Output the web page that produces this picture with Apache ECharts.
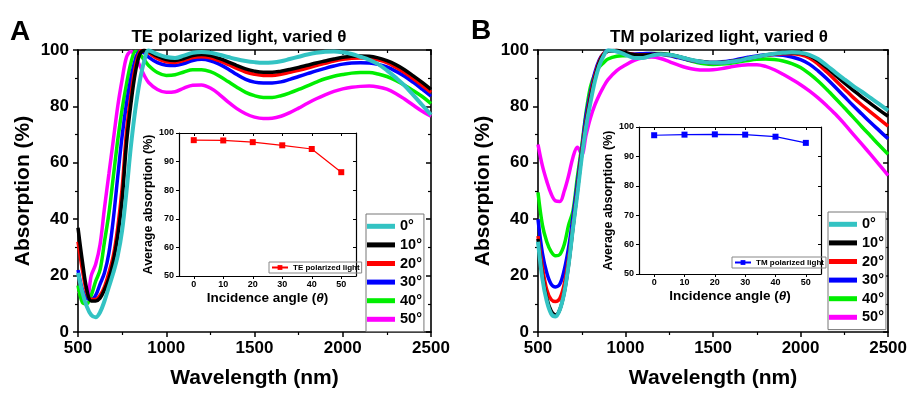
<!DOCTYPE html>
<html><head><meta charset="utf-8">
<script src="https://cdn.jsdelivr.net/npm/echarts@6/dist/echarts.min.js"></script>
<style>html,body{margin:0;padding:0;background:#fff}#c{width:910px;height:394px}</style>
</head><body><div id="c"></div>
<script>
// ---------- data ----------
const wavelength = [500,525,550,575,600,625,650,675,700,725,750,775,800,825,850,875,
  900,950,1000,1050,1100,1150,1200,1250,1300,1350,1400,1450,1500,1550,1600,1650,1700,1750,1800,1850,1900,1950,2000,2050,2100,2150,2200,2250,2300,2350,2400,2450,2500];
const angleNames = ['0°','10°','20°','30°','40°','50°'];
// TE polarized
const te0  = [21,14,9,6,5.2,7,11,16,21,27,36,50,66,79,89,96,
  99.8,98.5,97.5,97.2,98,99,99.3,99,98.3,97.5,96.7,96.1,95.7,95.5,95.6,96,96.8,97.6,98.4,99,99.4,99.5,99.2,98.6,97.6,96.5,95,92.8,90.2,87.4,84,80.5,77];
const te10 = [37,25,15,11,11,12,15,19,25,34,47,67,81,92,98.5,99.8,
  99.5,97.8,96.6,96.3,97,98,98.4,98,97,95.8,94.5,93.3,92.5,92.1,92.1,92.5,93.1,93.8,94.6,95.4,96.1,96.8,97.4,97.8,97.9,97.8,97.2,96.2,94.8,93,90.8,88.5,86];
const te20 = [32,22,14,11.5,11.5,13,16,21,27,37,51,71,84,94,99.3,99.8,
  99,97,95.8,95.6,96.3,97.3,97.6,97.2,96.2,94.9,93.5,92.2,91.4,91,91,91.4,92.1,92.8,93.6,94.5,95.3,96.1,96.7,97.1,97.2,97.1,96.5,95.5,93.9,92,89.8,87.4,85];
const te30 = [22,15,12,11.5,13,17,21,28,40,55,69.5,81,90,96.5,99.5,99,
  97.5,95.5,94.6,94.5,95.2,96.3,96.7,96.2,95,93.3,91.3,89.6,88.6,88.3,88.3,88.7,89.6,90.6,91.6,92.6,93.5,94.3,95,95.4,95.5,95.4,94.9,94,92.5,90.7,88.5,86.1,83.6];
const te40 = [16.5,10.5,10,13,18,22,32,42,55,68,79,88,95.5,99.5,98.5,96.5,
  94.5,92,91,91.2,92.2,93,93,92.3,90.8,88.8,86.8,85,83.8,83.2,83.2,83.8,84.8,86,87.3,88.6,89.8,90.7,91.3,91.8,92,92,91.5,90.6,89.2,87.5,85.6,83.5,81];
const te50 = [14.5,13,12,20,24,31,44,56,68,80,89.5,97.5,99.5,97.5,94.5,91,
  88.5,86,85,85.2,86.5,87.5,87.6,86.5,84.3,81.6,79.2,77.4,76.2,75.7,75.8,76.5,77.8,79.4,81.1,82.7,84.1,85.3,86.2,86.8,87.1,87.2,86.9,86.1,84.6,82.6,80.4,78.3,76.5];
// TM polarized
const tm0  = [32,19,11,6.5,5.5,8,14,24,37,49,62,73,81.5,89,94.5,98,
  99.8,99.5,98.3,97.2,97.2,98,98.5,98.3,97.7,96.9,96.2,95.7,95.5,95.5,95.8,96.3,97,97.6,98.2,98.7,99,99.2,99,98.3,96.8,94.5,92,89.6,87.3,85.2,83,80.8,78.5];
const tm10 = [33,20,12,7.5,6,8,14,24,37,50,63,74,83,90,95.5,98.5,
  99.5,99.8,99,98.3,98.2,98.4,98.6,98.3,97.7,96.9,96.2,95.8,95.6,95.6,95.9,96.4,97,97.6,98.2,98.6,98.9,99,98.8,98,96.2,93.7,91,88.3,85.8,83.3,81,78.7,76.5];
const tm20 = [34,23,15,11.5,10.8,12,17,26,38,51,64,75,84,91,96,98.8,
  99.5,99.8,99,98.4,98.3,98.4,98.5,98.2,97.6,96.8,96.1,95.7,95.5,95.6,95.9,96.4,97,97.6,98.1,98.5,98.7,98.7,98.3,97.2,95,92.2,89.2,86.2,83.2,80.5,78,75.5,73];
const tm30 = [40,28,21,17,16,17,22,30,41,53,65,77,85,92,96.5,98.8,
  99.8,99.5,98.8,98.6,98.7,98.8,98.6,98,97.3,96.6,96,95.7,95.6,95.8,96.2,96.8,97.4,97.9,98.2,98.3,98.1,97.5,96.6,95,92.6,89.8,86.7,83.5,80.3,77.3,74.3,71.4,68.5];
const tm40 = [49.5,38,32,28.5,27,27.5,31,38,43,55,66,78,87,91.5,94,95.5,
  96.8,97.8,98,98.3,98.6,98.8,98.8,98.4,97.7,96.5,95.7,95.1,94.9,95,95.3,95.8,96.3,96.7,96.8,96.6,96.1,95.2,93.8,91.6,89,86,82.8,79.5,76.2,72.8,69.5,66.2,63];
const tm50 = [66.5,59,53.5,49,46.5,46.3,50,55.5,62,65.5,63,70,76,80.5,84,87,
  89.5,92.7,94.7,96.3,97.2,97.5,97,95.9,94.7,93.7,93.1,92.9,93,93.4,94,94.5,94.8,94.8,94.2,93,91.4,89.6,87.7,85.5,83,80.2,77.2,73.8,70.2,66.6,63,59.3,55.5];
// insets
const incidenceAngle = [0,10,20,30,40,50];
const teAverage = [97.5,97.4,96.8,95.7,94.4,86.3];
const tmAverage = [97.2,97.4,97.5,97.4,96.7,94.6];
const insetTicks = [0,10,20,30,40,50];

// ---------- styles ----------
const FONT = 'Liberation Sans, Arial, sans-serif';
const colors = ['#33c3c3','#000000','#ff0000','#0000ff','#00ee00','#ff00ff'];
const teSets = [te0,te10,te20,te30,te40,te50];
const tmSets = [tm0,tm10,tm20,tm30,tm40,tm50];
const plain = v => String(v);

function mainX(grid, top){
  return {gridIndex:grid, type:'value', min:500, max:2500, interval:500, position: top?'top':'bottom',
    axisLine:{show:true, onZero:false, lineStyle:{color:'#000', width:1.6}},
    axisTick:{show:true, inside:!!top, length:5, lineStyle:{color:'#000', width:1.5}},
    minorTick:{show:true, splitNumber:2, length:3, lineStyle:{color:'#000', width:1.2}},
    axisLabel:{show:!top, margin:8, formatter:plain, fontSize:17, fontWeight:'bold', color:'#000', fontFamily:FONT},
    splitLine:{show:false},
    name: top?'':'Wavelength (nm)', nameLocation:'middle', nameGap:36,
    nameTextStyle:{fontSize:21, fontWeight:'bold', color:'#000', fontFamily:FONT}};
}
function mainY(grid, right){
  return {gridIndex:grid, type:'value', min:0, max:100, interval:20, position: right?'right':'left',
    axisLine:{show:true, onZero:false, lineStyle:{color:'#000', width:1.6}},
    axisTick:{show:true, inside:!!right, length:5, lineStyle:{color:'#000', width:1.5}},
    minorTick:{show:true, splitNumber:2, length:3, lineStyle:{color:'#000', width:1.2}},
    axisLabel:{show:!right, margin:9, formatter:plain, fontSize:17, fontWeight:'bold', color:'#000', fontFamily:FONT},
    splitLine:{show:false},
    name: right?'':'Absorption (%)', nameLocation:'middle', nameGap:44,
    nameTextStyle:{fontSize:21, fontWeight:'bold', color:'#000', fontFamily:FONT}};
}
function insetX(grid, top){
  return {gridIndex:grid, type:'value', min:-5, max:55, position: top?'top':'bottom',
    axisLine:{show:true, onZero:false, lineStyle:{color:'#000', width:1.2}},
    axisTick:{show:true, inside:!!top, length:3, customValues:insetTicks, lineStyle:{color:'#000', width:1}},
    axisLabel:{show:!top, margin:4, customValues:insetTicks, formatter:plain, fontSize:9, fontWeight:'bold', color:'#000', fontFamily:FONT},
    splitLine:{show:false},
    name: top?'':'Incidence angle ({i|θ})', nameLocation:'middle', nameGap:15,
    nameTextStyle:{fontSize:13.5, fontWeight:'bold', color:'#000', fontFamily:FONT,
      rich:{i:{fontSize:13.5, fontWeight:'bold', fontStyle:'italic', color:'#000', fontFamily:FONT}}}};
}
function insetY(grid, right){
  return {gridIndex:grid, type:'value', min:50, max:100, interval:10, position: right?'right':'left',
    axisLine:{show:true, onZero:false, lineStyle:{color:'#000', width:1.2}},
    axisTick:{show:true, inside:!!right, length:3, lineStyle:{color:'#000', width:1}},
    axisLabel:{show:!right, margin:5, formatter:plain, fontSize:9, fontWeight:'bold', color:'#000', fontFamily:FONT},
    splitLine:{show:false},
    name: right?'':'Average absorption (%)', nameLocation:'middle', nameGap:21,
    nameTextStyle:{fontSize:12.5, fontWeight:'bold', color:'#000', fontFamily:FONT}};
}

const series = [];
function addMain(sets, axisIdx){
  for (let k = sets.length-1; k >= 0; k--) {
    series.push({type:'line', name:angleNames[k], xAxisIndex:axisIdx, yAxisIndex:axisIdx,
      data: wavelength.map((w,i)=>[w, sets[k][i]]), smooth:0.35, showSymbol:false, symbol:'none',
      clip:true, z: 3 + (sets.length-k),
      lineStyle:{color:colors[k], width: k===0?4:3.5}, itemStyle:{color:colors[k]}});
  }
}
addMain(teSets, 0);
addMain(tmSets, 4);
series.push({type:'line', name:'TE polarized light', xAxisIndex:2, yAxisIndex:2,
  data: incidenceAngle.map((a,i)=>[a, teAverage[i]]), symbol:'rect', symbolSize:6,
  lineStyle:{color:'#ff0000', width:1.2}, itemStyle:{color:'#ff0000'}});
series.push({type:'line', name:'TM polarized light', xAxisIndex:6, yAxisIndex:6,
  data: incidenceAngle.map((a,i)=>[a, tmAverage[i]]), symbol:'rect', symbolSize:6,
  lineStyle:{color:'#0000ff', width:1.2}, itemStyle:{color:'#0000ff'}});

function mainLegend(left, top){
  return {left:left, top:top, orient:'vertical', data:angleNames, icon:'rect',
    itemWidth:28, itemHeight:5, itemGap:0, padding:[3,2,3,1], selectedMode:false,
    borderColor:'#777', borderWidth:1, backgroundColor:'#fff',
    textStyle:{fontSize:14.5, fontWeight:'bold', color:'#000', lineHeight:18.6, fontFamily:FONT}};
}
function insetLegend(left, top, name){
  return {left:left, top:top, orient:'vertical', data:[name], itemWidth:16, itemHeight:6,
    itemGap:0, padding:[1,2,1,2], selectedMode:false, borderColor:'#888', borderWidth:1,
    textStyle:{fontSize:8, fontWeight:'bold', color:'#000', lineHeight:9, fontFamily:FONT}};
}

const option = {
  animation:false,
  backgroundColor:'#fff',
  grid:[
    {left:78, top:50, width:353, height:284},
    {left:179, top:133, width:177, height:143},
    {left:538, top:50, width:353, height:284},
    {left:639, top:127, width:182, height:147}
  ],
  xAxis:[mainX(0,false), mainX(0,true), insetX(1,false), insetX(1,true),
         mainX(2,false), mainX(2,true), insetX(3,false), insetX(3,true)],
  yAxis:[mainY(0,false), mainY(0,true), insetY(1,false), insetY(1,true),
         mainY(2,false), mainY(2,true), insetY(3,false), insetY(3,true)],
  legend:[mainLegend(366,214), mainLegend(828,212),
          insetLegend(269,262,'TE polarized light'), insetLegend(732,257,'TM polarized light')],
  graphic:[
    {type:'text', left:10, top:18, style:{text:'A', fontSize:28, fontWeight:'bold', fill:'#000', fontFamily:FONT}},
    {type:'text', left:471, top:17, style:{text:'B', fontSize:28, fontWeight:'bold', fill:'#000', fontFamily:FONT}},
    {type:'text', x:239, y:37, style:{text:'TE polarized light, varied θ', fontSize:17, fontWeight:'bold', fill:'#000', fontFamily:FONT, align:'center', verticalAlign:'middle'}},
    {type:'text', x:719, y:37, style:{text:'TM polarized light, varied θ', fontSize:17, fontWeight:'bold', fill:'#000', fontFamily:FONT, align:'center', verticalAlign:'middle'}}
  ],
  series: series
};
const chart = echarts.init(document.getElementById('c'), null, {renderer:'canvas'});
chart.setOption(option);
</script></body></html>
